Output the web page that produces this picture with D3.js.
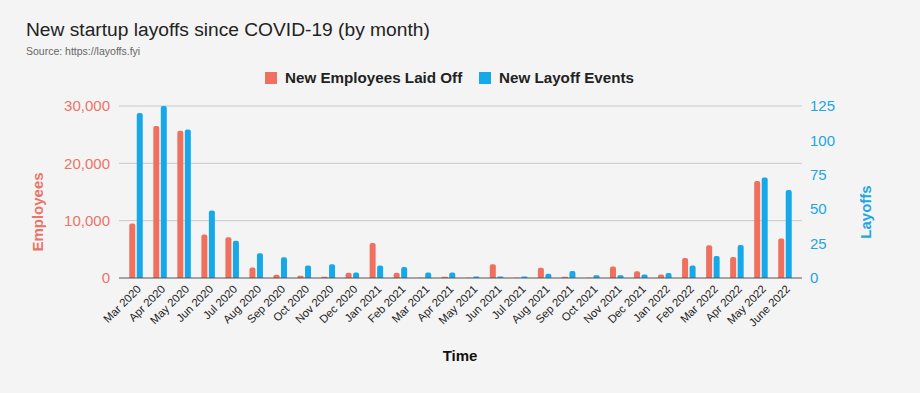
<!DOCTYPE html>
<html>
<head>
<meta charset="utf-8">
<script src="https://cdn.jsdelivr.net/npm/d3@7"></script>
<style>
  body { margin: 0; background: #f4f4f4; }
  svg { display: block; font-family: "Liberation Sans", Arial, Helvetica, sans-serif; }
</style>
</head>
<body>
<div id="chart"></div>
<script>
// data
var months = ["Mar 2020", "Apr 2020", "May 2020", "Jun 2020", "Jul 2020", "Aug 2020", "Sep 2020",
              "Oct 2020", "Nov 2020", "Dec 2020", "Jan 2021", "Feb 2021", "Mar 2021", "Apr 2021",
              "May 2021", "Jun 2021", "Jul 2021", "Aug 2021", "Sep 2021", "Oct 2021", "Nov 2021",
              "Dec 2021", "Jan 2022", "Feb 2022", "Mar 2022", "Apr 2022", "May 2022", "June 2022"];
var employees = [9500, 26500, 25700, 7600, 7100, 1850, 580, 400, 230, 900, 6100, 900, 50, 200,
                 30, 2400, 30, 1800, 200, 30, 2000, 1170, 590, 3500, 5700, 3650, 16900, 6900];
var events = [120, 125, 108, 49, 27, 18, 15, 9, 10, 4, 9, 8, 4, 4,
              1, 1, 1, 3, 5, 2, 2, 2.5, 3.6, 9, 16, 24, 73, 64];
var leftTicks = [0, 10000, 20000, 30000];
var rightTicks = [0, 25, 50, 75, 100, 125];

var red = "#f0705f", blue = "#16a9ea";
var redText = "#ea7468", blueText = "#22a6e0";

var width = 920, height = 393;
var margin = {top: 106, right: 118, bottom: 115, left: 119};
var plotW = width - margin.left - margin.right,
    plotH = height - margin.top - margin.bottom;

var svg = d3.select("#chart").append("svg")
            .attr("width", width)
            .attr("height", height);

svg.append("rect").attr("width", width).attr("height", height).attr("fill", "#f4f4f4");

// title + source
svg.append("text").attr("x", 26).attr("y", 36)
    .style("font-size", "19.2px").attr("fill", "#222")
    .text("New startup layoffs since COVID-19 (by month)");
svg.append("text").attr("x", 26).attr("y", 55)
    .style("font-size", "10.5px").attr("fill", "#666")
    .text("Source: https://layoffs.fyi");

var g = svg.append("g")
           .attr("transform", "translate(" + margin.left + "," + margin.top + ")");

// scales
var x = d3.scaleBand().domain(months).range([5, plotW - 5]).paddingInner(0).paddingOuter(0);
var yL = d3.scaleLinear().domain([0, 30000]).range([plotH, 0]);
var yR = d3.scaleLinear().domain([0, 125]).range([plotH, 0]);

// gridlines
g.selectAll("line.grid").data(leftTicks.slice(1)).enter().append("line")
    .attr("class", "grid")
    .attr("x1", 0).attr("x2", plotW)
    .attr("y1", function(d) { return yL(d); })
    .attr("y2", function(d) { return yL(d); })
    .attr("stroke", "#c8c8c8").attr("stroke-width", 1);

// bar with rounded top
function roundTop(x0, y0, w, h) {
    var r = Math.min(2, h / 2, w / 2);
    if (h <= 0) return "";
    return "M" + x0 + "," + (y0 + h) +
           "V" + (y0 + r) +
           "Q" + x0 + "," + y0 + " " + (x0 + r) + "," + y0 +
           "H" + (x0 + w - r) +
           "Q" + (x0 + w) + "," + y0 + " " + (x0 + w) + "," + (y0 + r) +
           "V" + (y0 + h) + "Z";
}

var barW = 6, gap = 1.5;

g.selectAll("path.emp").data(months).enter().append("path")
    .attr("class", "emp")
    .attr("fill", red)
    .attr("d", function(d, i) {
        var cx = x(d) + x.bandwidth() / 2;
        return roundTop(cx - gap / 2 - barW, yL(employees[i]), barW, plotH - yL(employees[i]));
    });

g.selectAll("path.evt").data(months).enter().append("path")
    .attr("class", "evt")
    .attr("fill", blue)
    .attr("d", function(d, i) {
        var cx = x(d) + x.bandwidth() / 2;
        return roundTop(cx + gap / 2, yR(events[i]), barW, plotH - yR(events[i]));
    });

// baseline
g.append("line")
    .attr("x1", 0).attr("x2", plotW)
    .attr("y1", plotH).attr("y2", plotH)
    .attr("stroke", "#555").attr("stroke-width", 1.2);

// left axis labels
g.selectAll("text.yl").data(leftTicks).enter().append("text")
    .attr("class", "yl")
    .attr("x", -9)
    .attr("y", function(d) { return yL(d); })
    .attr("dy", "0.35em")
    .attr("text-anchor", "end")
    .style("font-size", "15px")
    .attr("fill", redText)
    .text(function(d) { return d3.format(",")(d); });

// right axis labels
g.selectAll("text.yr").data(rightTicks).enter().append("text")
    .attr("class", "yr")
    .attr("x", plotW + 8)
    .attr("y", function(d) { return yR(d); })
    .attr("dy", "0.35em")
    .attr("text-anchor", "start")
    .style("font-size", "15px")
    .attr("fill", blueText)
    .text(function(d) { return d; });

// x axis labels
g.selectAll("text.xl").data(months).enter().append("text")
    .attr("class", "xl")
    .attr("transform", function(d) {
        return "translate(" + (x(d) + x.bandwidth() / 2 + 3) + "," + (plotH + 9) + ") rotate(-45)";
    })
    .attr("text-anchor", "end")
    .attr("dy", "0.35em")
    .style("font-size", "11.3px")
    .attr("fill", "#222")
    .text(function(d) { return d; });

// axis titles
svg.append("text")
    .attr("transform", "translate(38,212) rotate(-90)")
    .attr("text-anchor", "middle")
    .attr("dy", "0.35em")
    .style("font-size", "15px").style("font-weight", "bold")
    .attr("fill", redText)
    .text("Employees");

svg.append("text")
    .attr("transform", "translate(866,212) rotate(-90)")
    .attr("text-anchor", "middle")
    .attr("dy", "0.35em")
    .style("font-size", "15px").style("font-weight", "bold")
    .attr("fill", blueText)
    .text("Layoffs");

svg.append("text")
    .attr("x", 460).attr("y", 361)
    .attr("text-anchor", "middle")
    .style("font-size", "15px").style("font-weight", "bold")
    .attr("fill", "#111")
    .text("Time");

// legend
var legend = [
    {name: "New Employees Laid Off", color: red, x: 265},
    {name: "New Layoff Events", color: blue, x: 479}
];
var lg = svg.selectAll("g.legend").data(legend).enter().append("g")
    .attr("class", "legend")
    .attr("transform", function(d) { return "translate(" + d.x + ",72)"; });
lg.append("rect").attr("width", 12).attr("height", 12).attr("fill", function(d) { return d.color; });
lg.append("text")
    .attr("x", 20).attr("y", 6).attr("dy", "0.35em")
    .style("font-size", "15.2px").style("font-weight", "bold")
    .attr("fill", "#222")
    .text(function(d) { return d.name; });
</script>
</body>
</html>
